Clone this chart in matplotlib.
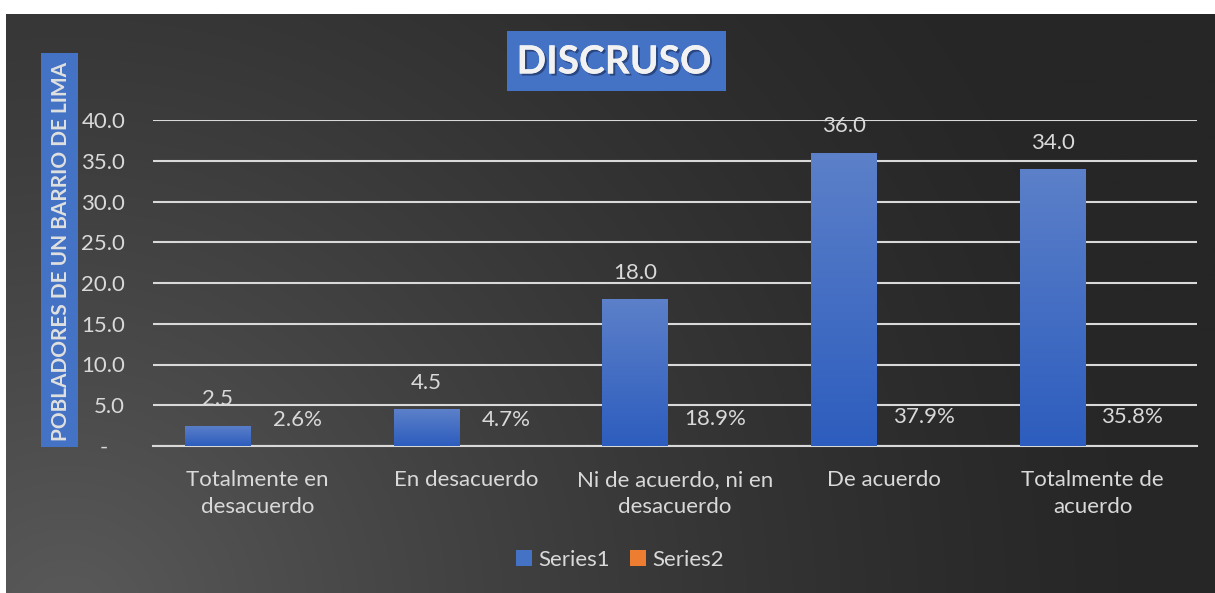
import numpy as np
import matplotlib
matplotlib.use("Agg")
import matplotlib.pyplot as plt
from matplotlib.patches import Patch
from matplotlib.ticker import FuncFormatter, MultipleLocator
from matplotlib.colors import LinearSegmentedColormap
import matplotlib.patheffects as pe

categories = ["Totalmente en\ndesacuerdo", "En desacuerdo", "Ni de acuerdo, ni en\ndesacuerdo",
              "De acuerdo", "Totalmente de\nacuerdo"]
series1 = [2.5, 4.5, 18.0, 36.0, 34.0]
series2 = [0.026, 0.047, 0.189, 0.379, 0.358]
title = "DISCRUSO"
ylabel = "POBLADORES DE UN BARRIO DE LIMA"

plt.rcParams['font.family'] = ['Lato', 'DejaVu Sans']
TXT = '#d9d9d9'
BLUE = '#4472C4'
ORANGE = '#ED7D31'
FS = 16

W, H = 1215, 593
fig = plt.figure(figsize=(W / 100, H / 100), dpi=100)
fig.patch.set_facecolor('white')

# background gradient
bg = fig.add_axes([6 / W, 0, 1 - 6 / W, (H - 14) / H], zorder=0)
ny, nx = 300, 600
yy, xx = np.mgrid[0:1:ny * 1j, 0:1:nx * 1j]
d = np.sqrt(((xx - 0.05) * 2.05) ** 2 + ((yy + 0.05)) ** 2)
t = np.clip(1 - d / 1.9, 0, 1) ** 1.4
v = (0x26 + (0x5a - 0x26) * t) / 255.0
img = np.dstack([v, v, v])
bg.imshow(img, origin='lower', extent=[0, 1, 0, 1], aspect='auto')
bg.set_xlim(0, 1); bg.set_ylim(0, 1)
bg.axis('off')

ax = fig.add_axes([153 / W, (H - 446) / H, (1197 - 153) / W, (446 - 120) / H], zorder=2)
ax.patch.set_alpha(0)
x = np.arange(len(categories))
bw = 0.315
off = 0.19
bars1 = ax.bar(x - off, series1, width=bw, color=BLUE, zorder=3)
bars2 = ax.bar(x + off, series2, width=bw, color=ORANGE, alpha=0.0, zorder=3)

# gradient fill on bars
grad = np.linspace(0, 1, 100).reshape(-1, 1)
cm = LinearSegmentedColormap.from_list('bb', ['#2D5DBE', '#5C80C9'])
for b in bars1:
    bx, by = b.get_x(), b.get_y()
    bwid, bh = b.get_width(), b.get_height()
    im = ax.imshow(grad, cmap=cm, origin='lower', aspect='auto',
                   extent=[bx, bx + bwid, by, by + bh], zorder=3.5)
    im.set_clip_path(b)

ax.set_xlim(-0.5, len(categories) - 0.5)
ax.set_ylim(0, 40)
ax.yaxis.set_major_locator(MultipleLocator(5))
ax.yaxis.set_major_formatter(FuncFormatter(lambda v_, p: "-   " if abs(v_) < 1e-9 else f"{v_:.1f}"))
ax.grid(axis='y', color='#d9d9d9', linewidth=1.5, zorder=1)
ax.set_axisbelow(True)
for s in ['top', 'right', 'left']:
    ax.spines[s].set_visible(False)
ax.spines['bottom'].set_color('#d9d9d9')
ax.spines['bottom'].set_linewidth(1.5)
ax.tick_params(axis='y', length=0, pad=20, labelsize=FS, labelcolor=TXT)
ax.tick_params(axis='x', length=0, pad=17, labelsize=FS, labelcolor=TXT)
ax.set_xticks(x)
ax.set_xticklabels(categories, linespacing=1.45)

for xi, v1 in zip(x, series1):
    ax.annotate(f"{v1:.1f}", (xi - off, v1), xytext=(0, 19), textcoords='offset points',
                ha='center', va='center', fontsize=FS, color=TXT, zorder=5)
for xi, v2 in zip(x, series2):
    ax.annotate(f"{v2 * 100:.1f}%", (xi + off, v2), xytext=(0, 18.5), textcoords='offset points',
                ha='center', va='center', fontsize=FS, color=TXT, zorder=5)

# title box
fig.text(614 / W, 1 - 62 / H, title, ha='center', va='center', fontsize=28, fontweight='bold',
         color='#f2f2f2', zorder=5,
         path_effects=[pe.withSimplePatchShadow(offset=(1.5, -1.5), shadow_rgbFace='#1a2a55', alpha=0.6), pe.Normal()])
tb = plt.Rectangle((507 / W, 1 - 91 / H), (726 - 507) / W, 60 / H, transform=fig.transFigure,
                   facecolor=BLUE, edgecolor='none', zorder=4)
fig.patches.append(tb)

# y label box
yb = plt.Rectangle((41 / W, 1 - 447 / H), 37 / W, (447 - 53) / H, transform=fig.transFigure,
                   facecolor=BLUE, edgecolor='none', zorder=4)
fig.patches.append(yb)
fig.text(61 / W, 1 - 251 / H, ylabel, rotation=90, ha='center', va='center', fontsize=15,
         fontweight='bold', color='#e0e0e0', zorder=5)

handles = [Patch(facecolor=BLUE, edgecolor='none'), Patch(facecolor=ORANGE, edgecolor='none')]
leg = fig.legend(handles, ['Series1', 'Series2'], loc='center', bbox_to_anchor=(620 / W, 1 - 560 / H),
                 ncol=2, frameon=False, fontsize=FS, labelcolor=TXT, handlelength=0.7, handleheight=0.7,
                 handletextpad=0.3, columnspacing=0.9)

fig.savefig('out.png', dpi=100)
